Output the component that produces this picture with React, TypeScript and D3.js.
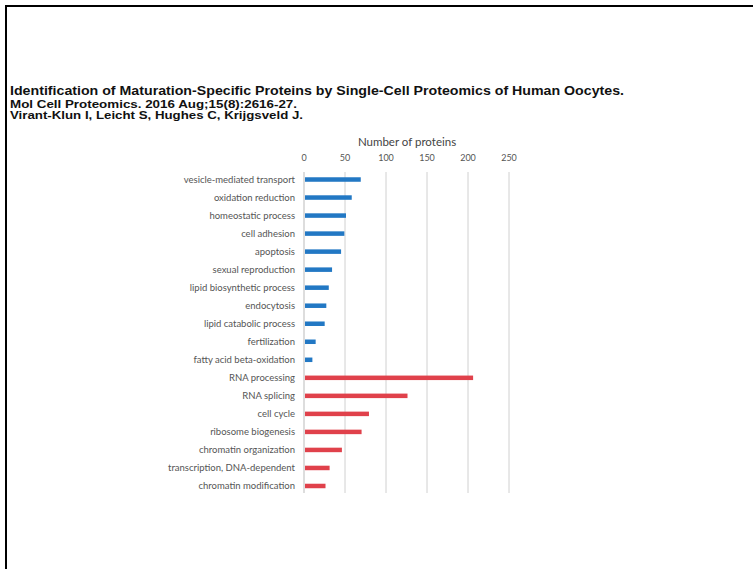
import React from "react";
import * as d3 from "d3";

const categories = [
  "vesicle-mediated transport",
  "oxidation reduction",
  "homeostatic process",
  "cell adhesion",
  "apoptosis",
  "sexual reproduction",
  "lipid biosynthetic process",
  "endocytosis",
  "lipid catabolic process",
  "fertilization",
  "fatty acid beta-oxidation",
  "RNA processing",
  "RNA splicing",
  "cell cycle",
  "ribosome biogenesis",
  "chromatin organization",
  "transcription, DNA-dependent",
  "chromatin modification",
];
const values = [68, 57, 50, 48, 44, 33, 29, 26, 24, 13, 9, 205, 125, 78, 69, 45, 30, 25];
const groups = ["up", "up", "up", "up", "up", "up", "up", "up", "up", "up", "up", "down", "down", "down", "down", "down", "down", "down"];
const xTicks = [0, 50, 100, 150, 200, 250];
const titleLines = [
  "Identification of Maturation-Specific Proteins by Single-Cell Proteomics of Human Oocytes.",
  "Mol Cell Proteomics. 2016 Aug;15(8):2616-27.",
  "Virant-Klun I, Leicht S, Hughes C, Krijgsveld J.",
];
const axisTitle = "Number of proteins";

export default function App() {
  const W = 753, H = 569;
  const x = d3.scaleLinear().domain([0, 250]).range([304, 509]);
  const y = d3.scaleBand().domain(categories).range([170.5, 495]).paddingInner(0.75).paddingOuter(0.375);
  const color = d3.scaleOrdinal<string, string>().domain(["up", "down"]).range(["#2278c4", "#e0414b"]);
  const chartFont = "Lato, 'Open Sans', sans-serif";
  return (
    <svg width={W} height={H} style={{ position: "absolute", left: 0, top: 0, background: "#fff" }}>
      <rect x={0} y={0} width={W} height={H} fill="#fff" />
      <line x1={5} y1={6} x2={W} y2={6} stroke="#000" strokeWidth={2} />
      <line x1={6} y1={5} x2={6} y2={H} stroke="#000" strokeWidth={2} />
      <g fontFamily="'Liberation Sans', Arial, sans-serif" fontWeight="bold" fill="#111">
        <text x={10} y={95} fontSize={13} textLength={614} lengthAdjust="spacingAndGlyphs">{titleLines[0]}</text>
        <text x={10} y={107.5} fontSize={11.5} textLength={287} lengthAdjust="spacingAndGlyphs">{titleLines[1]}</text>
        <text x={10} y={119} fontSize={11.5} textLength={293} lengthAdjust="spacingAndGlyphs">{titleLines[2]}</text>
      </g>
      <g fontFamily={chartFont}>
        <text x={407} y={146} fontSize={11.5} fill="#444" textAnchor="middle">{axisTitle}</text>
        {xTicks.map((t) => (
          <g key={t}>
            <line x1={x(t)} x2={x(t)} y1={172} y2={493} stroke={t === 0 ? "#bbb" : "#d0d0d0"} strokeWidth={1} />
            <text x={x(t)} y={161} fontSize={9} fill="#555" textAnchor="middle">{t}</text>
          </g>
        ))}
        {categories.map((c, i) => (
          <g key={c}>
            <rect x={x(0) + 1} y={y(c)!} width={x(values[i]) - x(0)} height={y.bandwidth()} fill={color(groups[i])} />
            <text x={295} y={y(c)! + y.bandwidth() / 2 + 3.3} fontSize={9.5} fill="#555" textAnchor="end">{c}</text>
          </g>
        ))}
      </g>
    </svg>
  );
}
